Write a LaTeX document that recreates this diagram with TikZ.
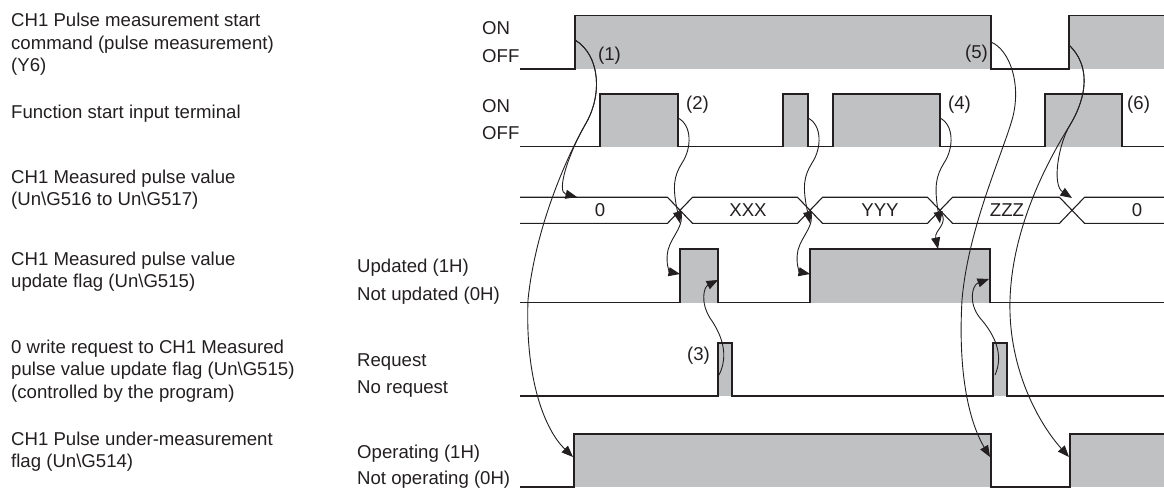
\documentclass[tikz,border=0pt]{standalone}
\usepackage{fontspec}
\setmainfont{Liberation Sans}
\usetikzlibrary{arrows.meta}
\definecolor{ink}{RGB}{35,31,32}
\definecolor{pulsefill}{RGB}{192,193,195}
\newcommand{\desctext}[1]{\begin{tabular}[t]{@{}l@{}}#1\end{tabular}}
\begin{document}
\begin{tikzpicture}[x=1pt,y=-1pt,
  font=\fontsize{18.6}{22.5}\selectfont, text=ink,
  sig/.style={draw=ink,line width=1.2pt,line join=miter},
  bus/.style={draw=ink,line width=1.1pt,line join=miter},
  pulse/.style={fill=pulsefill,draw=none},
  conn/.style={draw=ink,line width=0.9pt,-{Triangle[length=11.5pt,width=9pt]}},
  lbl/.style={anchor=base west,inner sep=0pt},
  val/.style={anchor=base,inner sep=0pt}]
\useasboundingbox (0,0) rectangle (1164,489);

% ---- left descriptions
\node[lbl] (d1) at (11,26.7) {\desctext{CH1 Pulse measurement start\\command (pulse measurement)\\(Y6)}};
\node[lbl] (d2) at (11,118.3) {\desctext{Function start input terminal}};
\node[lbl] (d3) at (11,183.3) {\desctext{CH1 Measured pulse value\\(Un\textbackslash G516 to Un\textbackslash G517)}};
\node[lbl] (d4) at (11,265) {\desctext{CH1 Measured pulse value\\update flag (Un\textbackslash G515)}};
\node[lbl] (d5) at (11,353.3) {\desctext{0 write request to CH1 Measured\\pulse value update flag (Un\textbackslash G515)\\(controlled by the program)}};
\node[lbl] (d6) at (11,445) {\desctext{CH1 Pulse under-measurement\\flag (Un\textbackslash G514)}};

% ---- state labels
\node[lbl] (s1a) at (482,35) {ON};
\node[lbl] (s1b) at (482,62.7) {OFF};
\node[lbl] (s2a) at (482,112.5) {ON};
\node[lbl] (s2b) at (482,140) {OFF};
\node[lbl] (s4a) at (357,272.5) {Updated (1H)};
\node[lbl] (s4b) at (357,300.5) {Not updated (0H)};
\node[lbl] (s5a) at (357,366) {Request};
\node[lbl] (s5b) at (357,393) {No request};
\node[lbl] (s6a) at (357,458) {Operating (1H)};
\node[lbl] (s6b) at (357,484) {Not operating (0H)};

% ---- Y6
\fill[pulse] (575,15.7) rectangle (991,69);
\fill[pulse] (1069,15.7) rectangle (1164,69);
\draw[sig] (520,69) -- (575,69) -- (575,15.7) -- (991,15.7) -- (991,69) -- (1069,69) -- (1069,15.7) -- (1164,15.7);

% ---- Function start input
\fill[pulse] (600,94) rectangle (678,146.7);
\fill[pulse] (783,94) rectangle (808,146.7);
\fill[pulse] (833,94) rectangle (940,146.7);
\fill[pulse] (1045,94) rectangle (1122,146.7);
\draw[sig] (520,146.7) -- (600,146.7) -- (600,94) -- (678,94) -- (678,146.7) -- (783,146.7) -- (783,94) -- (808,94) -- (808,146.7) -- (833,146.7) -- (833,94) -- (940,94) -- (940,146.7) -- (1045,146.7) -- (1045,94) -- (1122,94) -- (1122,146.7) -- (1164,146.7);

% ---- Measured value bus
\draw[bus] (520,197.3) -- (667.5,197.3) -- (692.5,223.3) -- (797.5,223.3) -- (822.5,197.3) -- (927.5,197.3) -- (952.5,223.3) -- (1059.5,223.3) -- (1084.5,197.3) -- (1164,197.3);
\draw[bus] (520,223.3) -- (667.5,223.3) -- (692.5,197.3) -- (797.5,197.3) -- (822.5,223.3) -- (927.5,223.3) -- (952.5,197.3) -- (1059.5,197.3) -- (1084.5,223.3) -- (1164,223.3);
\node[val] (v0) at (600,217) {0};
\node[val] (v1) at (748,217) {XXX};
\node[val] (v2) at (880,217) {YYY};
\node[val] (v3) at (1007,217) {ZZZ};
\node[val] (v4) at (1137,217) {0};

% ---- update flag
\fill[pulse] (680,249) rectangle (718,302.7);
\fill[pulse] (810,249) rectangle (990,302.7);
\draw[sig] (520,302.7) -- (680,302.7) -- (680,249) -- (718,249) -- (718,302.7) -- (810,302.7) -- (810,249) -- (990,249) -- (990,302.7) -- (1164,302.7);

% ---- 0 write request
\fill[pulse] (718,343) rectangle (732,396);
\fill[pulse] (993,343) rectangle (1007,396);
\draw[sig] (520,396) -- (718,396) -- (718,343) -- (732,343) -- (732,396) -- (993,396) -- (993,343) -- (1007,343) -- (1007,396) -- (1164,396);

% ---- under-measurement flag
\fill[pulse] (574,434) rectangle (991,487);
\fill[pulse] (1070,434) rectangle (1164,487);
\draw[sig] (520,487) -- (574,487) -- (574,434) -- (991,434) -- (991,487) -- (1070,487) -- (1070,434) -- (1164,434);

% ---- step labels
\node[lbl] (n1) at (598,60.5) {(1)};
\node[lbl] (n5) at (965,59) {(5)};
\node[lbl] (n2) at (686,110) {(2)};
\node[lbl] (n4) at (948,110) {(4)};
\node[lbl] (n6) at (1127,110) {(6)};
\node[lbl] (n3) at (687,360) {(3)};

% ---- connector coordinates
\coordinate (y6on) at (575,40);
\coordinate (y6off) at (991,42);
\coordinate (y6on2) at (1069,45);
\coordinate (bus0) at (577,197);
\coordinate (fsA) at (678,118);
\coordinate (fsB) at (808,118);
\coordinate (fsC) at (940,118);
\coordinate (xA) at (680,210.3);
\coordinate (xB) at (810,210.3);
\coordinate (xC) at (940,210.3);
\coordinate (xD) at (1072,198);
\coordinate (ufA) at (680,274);
\coordinate (ufB) at (810,274);
\coordinate (ufC) at (938,249);
\coordinate (ufD) at (718,280);
\coordinate (ufE) at (989,279);
\coordinate (rqA) at (719,375);
\coordinate (rqB) at (995,375);
\coordinate (umA) at (573,457);
\coordinate (umB) at (990,457);
\coordinate (umC) at (1069,457);

% (1)
\draw[conn] (y6on) .. controls (600,55) and (603,95) .. (585,125) .. controls (568,155) and (556,192) .. (bus0);
\draw[conn] (y6on) .. controls (600,55) and (603,95) .. (585,125) .. controls (565,160) and (535,230) .. (528,300) .. controls (525,380) and (545,430) .. (umA);
% (2)
\draw[conn] (fsA) .. controls (692,125) and (692,148) .. (682,163) .. controls (674,176) and (672,186) .. ([yshift=-13pt]xA);
\draw[conn] (xA) .. controls (686,225) and (672,235) .. (668,250) .. controls (665,264) and (670,272) .. (ufA);
\draw[conn] (fsB) .. controls (822,125) and (822,148) .. (812,163) .. controls (804,176) and (802,186) .. ([yshift=-13pt]xB);
\draw[conn] (xB) .. controls (816,225) and (802,235) .. (798,250) .. controls (795,264) and (800,272) .. (ufB);
% (4)
\draw[conn] (fsC) .. controls (954,125) and (954,148) .. (944,163) .. controls (936,176) and (934,186) .. ([yshift=-13pt]xC);
\draw[conn] (xC) .. controls (950,224) and (934,230) .. (ufC);
% (3)
\draw[conn] (rqA) .. controls (729,355) and (722,335) .. (710,318) .. controls (700,302) and (704,287) .. (ufD);
\draw[conn] (rqB) .. controls (1004,355) and (995,335) .. (980,318) .. controls (968,303) and (972,285) .. (ufE);
% (5)
\draw[conn] (y6off) .. controls (1010,50) and (1022,85) .. (1012,120) .. controls (1000,160) and (968,230) .. (962,300) .. controls (958,370) and (968,420) .. (umB);
% (6)
\draw[conn] (y6on2) .. controls (1090,65) and (1088,95) .. (1070,125) .. controls (1058,145) and (1052,185) .. (xD);
\draw[conn] (y6on2) .. controls (1090,65) and (1088,95) .. (1070,125) .. controls (1045,165) and (1012,230) .. (1010,300) .. controls (1008,370) and (1040,425) .. (umC);
\end{tikzpicture}
\end{document}
